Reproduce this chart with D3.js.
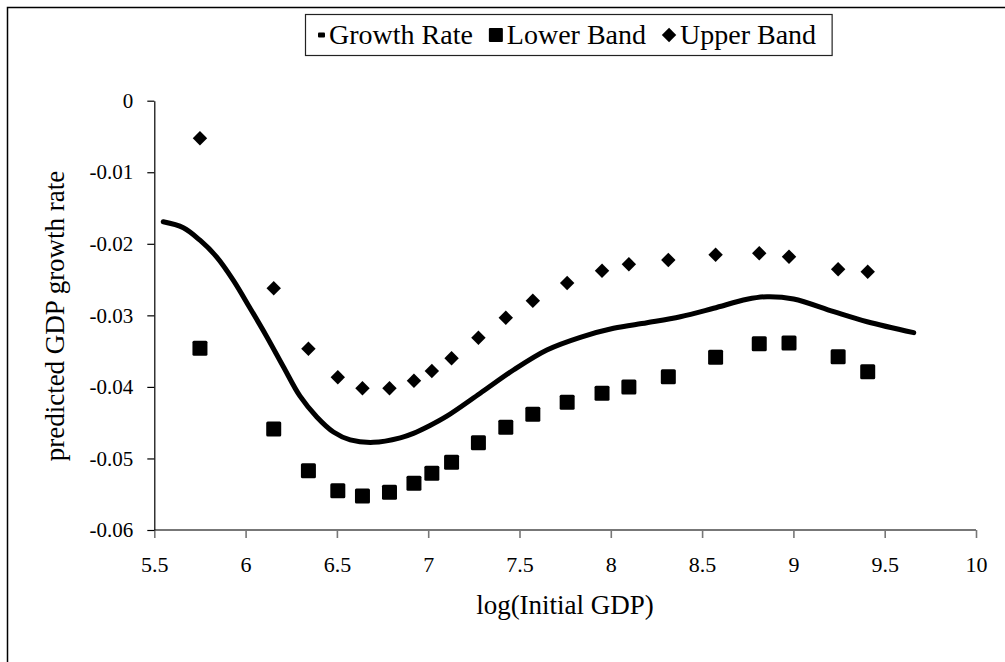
<!DOCTYPE html>
<html>
<head>
<meta charset="utf-8">
<script src="https://cdn.jsdelivr.net/npm/d3@7"></script>
<style>
  body { margin: 0; background: #fff; }
</style>
</head>
<body>
<script>
var w = 1005;
var h = 662;
var serif = "'Liberation Serif', 'DejaVu Serif', 'Times New Roman', serif";

// growth rate curve
var lineX = [5.549, 5.659, 5.750, 5.842, 5.933, 6.024, 6.116, 6.207, 6.298, 6.390, 6.481, 6.573, 6.700,
             6.847, 6.919, 7.010, 7.102, 7.285, 7.467, 7.650, 7.833, 8.015, 8.198, 8.381, 8.563, 8.746,
             8.856, 9.001, 9.221, 9.404, 9.659];
var lineY = [-0.01691, -0.01775, -0.01950, -0.02185, -0.02510, -0.02897, -0.03298, -0.03718, -0.04130,
             -0.04420, -0.04630, -0.04740, -0.04775, -0.04712, -0.04650, -0.04540, -0.04410, -0.04089,
             -0.03764, -0.03484, -0.03307, -0.03181, -0.03103, -0.03019, -0.02901, -0.02776, -0.02739,
             -0.02771, -0.02949, -0.03089, -0.03242];

var bandX = [5.750, 6.154, 6.344, 6.505, 6.640, 6.788, 6.922, 7.020, 7.128, 7.275, 7.425, 7.573, 7.761,
             7.952, 8.099, 8.315, 8.574, 8.813, 8.976, 9.245, 9.407];
var lowerBand = [-0.03461, -0.04588, -0.05171, -0.05451, -0.05525, -0.05473, -0.05346, -0.05207, -0.05053,
                 -0.04780, -0.04565, -0.04383, -0.04215, -0.04089, -0.04001, -0.03857, -0.03586, -0.03396,
                 -0.03386, -0.03578, -0.03788];
var upperBand = [-0.00526, -0.02622, -0.03466, -0.03866, -0.04020, -0.04020, -0.03913, -0.03778, -0.03600,
                 -0.03312, -0.03033, -0.02795, -0.02548, -0.02376, -0.02287, -0.02226, -0.02152, -0.02133,
                 -0.02180, -0.02356, -0.02390];

var xTicks = [5.5, 6, 6.5, 7, 7.5, 8, 8.5, 9, 9.5, 10];
var yTicks = [0, -0.01, -0.02, -0.03, -0.04, -0.05, -0.06];
var seriesNames = ['Growth Rate', 'Lower Band', 'Upper Band'];

var svg = d3.select('body').append('svg')
            .attr('width', w)
            .attr('height', h)
            .style('font-family', serif)

svg.append('rect')//outer frame, right/bottom fall outside the picture
    .attr('x', 7.5)
    .attr('y', 7.5)
    .attr('width', 1010)
    .attr('height', 670)
    .attr('fill', 'none')
    .attr('stroke', '#000')
    .attr('stroke-width', 1.5)

var x = d3.scaleLinear()
          .domain([5.5, 10])
          .range([154.3, 976])
var y = d3.scaleLinear()
          .domain([-0.06, 0])
          .range([530, 100.7])

var xAxis = d3.axisBottom(x)
              .tickValues(xTicks)
              .tickSize(8)
              .tickSizeOuter(0)
              .tickPadding(18)
              .tickFormat(function(d){ return d })
var yAxis = d3.axisLeft(y)
              .tickValues(yTicks)
              .tickSize(7)
              .tickSizeOuter(0)
              .tickPadding(14)
              .tickFormat(function(d){ return d })

var gx = svg.append('g')
    .attr('transform', 'translate(0,' + y(-0.06) + ')')
    .call(xAxis)
    .attr('font-family', serif)
    .attr('font-size', 22)
gx.selectAll('line').attr('stroke', '#777').attr('stroke-width', 1.6)
gx.select('.domain').remove()
gx.append('line')
    .attr('x1', x(5.5)).attr('x2', x(10))
    .attr('stroke', '#777').attr('stroke-width', 2)
gx.selectAll('.tick text').style('font-family', serif).attr('fill', '#000')

var gy = svg.append('g')
    .attr('transform', 'translate(' + x(5.5) + ',0)')
    .call(yAxis)
    .attr('font-family', serif)
    .attr('font-size', 21)
gy.selectAll('path, line').attr('stroke', '#000').attr('stroke-width', 1.2)
gy.selectAll('.tick text').style('font-family', serif).attr('fill', '#000')

svg.append('text')
    .attr('x', 565)
    .attr('y', 614)
    .attr('text-anchor', 'middle')
    .style('font-family', serif)
    .attr('font-size', 27)
    .text('log(Initial GDP)')

svg.append('text')
    .attr('transform', 'translate(64,316) rotate(-90)')
    .attr('text-anchor', 'middle')
    .style('font-family', serif)
    .attr('font-size', 27)
    .text('predicted GDP growth rate')

var line = d3.line()
             .x(function(d, i){ return x(lineX[i]) })
             .y(function(d){ return y(d) })
             .curve(d3.curveCatmullRom.alpha(0.5))

svg.append('path')
    .datum(lineY)
    .attr('d', line)
    .attr('fill', 'none')
    .attr('stroke', '#000')
    .attr('stroke-width', 5)
    .attr('stroke-linecap', 'round')

svg.selectAll('.lower')
    .data(lowerBand)
    .enter()
      .append('rect')
      .classed('lower', true)
      .attr('x', function(d, i){ return x(bandX[i]) - 7.5 })
      .attr('y', function(d){ return y(d) - 7.5 })
      .attr('width', 15)
      .attr('height', 15)
      .attr('rx', 1.5)

var diamond = d3.symbol().type(d3.symbolSquare).size(104)
svg.selectAll('.upper')
    .data(upperBand)
    .enter()
      .append('path')
      .classed('upper', true)
      .attr('d', diamond)
      .attr('transform', function(d, i){
        return 'translate(' + x(bandX[i]) + ',' + y(d) + ') rotate(45)'
      })

//legend
var legend = svg.append('g')
var box = legend.append('rect')
    .attr('y', 14.5)
    .attr('height', 41)
    .attr('fill', '#fff')
    .attr('stroke', '#222')
    .attr('stroke-width', 1.2)

var lx = 318;
var ly = 35;
seriesNames.forEach(function(name, i){
  var mw;
  if (i == 0) {
    legend.append('rect').attr('x', lx).attr('y', ly - 2.5).attr('width', 7).attr('height', 5).attr('rx', 1)
    mw = 7
  } else if (i == 1) {
    legend.append('rect').attr('x', lx).attr('y', ly - 7).attr('width', 14).attr('height', 14).attr('rx', 1)
    mw = 14
  } else {
    legend.append('path').attr('d', diamond).attr('transform', 'translate(' + (lx + 7) + ',' + ly + ') rotate(45)')
    mw = 14
  }
  var t = legend.append('text')
      .attr('x', lx + mw + 4)
      .attr('y', ly + 9)
      .style('font-family', serif)
      .attr('font-size', 28)
      .text(name)
  lx = lx + mw + 4 + t.node().getComputedTextLength() + 16
})
box.attr('x', 305.5).attr('width', lx - 305.5)
</script>
</body>
</html>
